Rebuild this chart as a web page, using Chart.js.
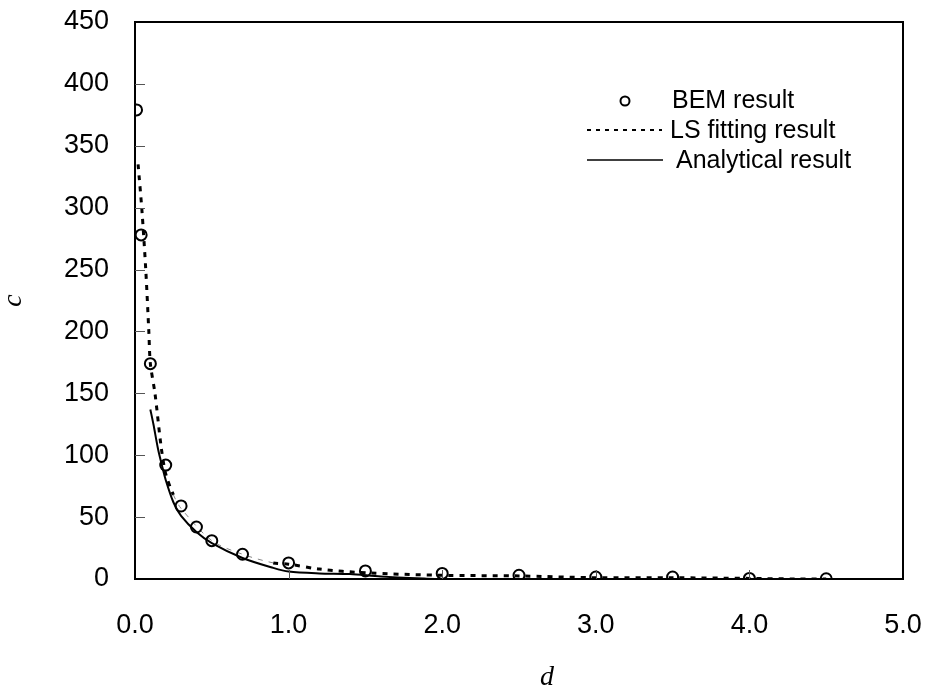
<!DOCTYPE html>
<html lang="en">
<head>
    <meta charset="UTF-8">
    <title>c versus d</title>
    <script src="https://cdn.jsdelivr.net/npm/chart.js"></script>
    <style>
        body { margin: 0; padding: 0; background: #fff; }
        #chart-container { width: 925px; height: 693px; }
    </style>
</head>
<body>
    <div id="chart-container">
        <canvas id="myChart" width="925" height="693"></canvas>
    </div>

    <script>
        // BEM result (circles)
        const bemD = [0.01, 0.04, 0.1, 0.2, 0.3, 0.4, 0.5, 0.7, 1.0, 1.5, 2.0, 2.5, 3.0, 3.5, 4.0, 4.5];
        const bemC = [379, 278, 174, 92, 59, 42, 31, 20, 13, 6.5, 4.5, 3, 1.6, 1.6, 0.5, 0.2];

        // LS fitting result (dotted)
        const lsD = [0.02, 0.045, 0.07, 0.09, 0.1, 0.13, 0.17, 0.2, 0.25, 0.3, 0.5, 0.7, 0.9, 1.0, 1.2, 1.5, 2.0, 2.5, 3.0, 3.5, 4.0, 4.3, 4.5];
        const lsC = [335, 298, 250, 200, 174, 150, 107, 85, 68, 57, 31, 20, 13, 12, 8, 5, 3, 2.5, 1, 1, 0.5, 0, 0];

        // Analytical result (solid)
        const anD = [0.1, 0.12, 0.15, 0.175, 0.2, 0.25, 0.3, 0.4, 0.5, 0.7, 0.9, 1.0, 1.2, 1.4, 1.6, 1.9, 2.0, 5.0];
        const anC = [137, 125, 105, 92, 80, 62, 51, 38, 29, 17, 9, 6, 4.5, 4, 2, 0.3, 0, 0];

        const xTicks = [0, 1, 2, 3, 4, 5];
        const yTicks = [0, 50, 100, 150, 200, 250, 300, 350, 400, 450];
        const xTitle = 'd';
        const yTitle = 'c';

        const toXY = (xs, ys) => xs.map((x, i) => ({ x: x, y: ys[i] }));
        const FONT = 'Liberation Sans, Arial, sans-serif';
        const SERIF = 'Liberation Serif, Times New Roman, serif';

        // box round the plot, inward ticks, axis titles and the legend
        const framePlugin = {
            id: 'frame',
            afterDraw(chart) {
                const ctx = chart.ctx;
                const a = chart.chartArea;
                const xs = chart.scales.x, ys = chart.scales.y;
                ctx.save();
                ctx.strokeStyle = '#000';
                ctx.lineWidth = 2;
                ctx.strokeRect(a.left, a.top, a.right - a.left, a.bottom - a.top);

                ctx.lineWidth = 1;
                ctx.strokeStyle = '#555';
                yTicks.slice(1, -1).forEach(v => {
                    const py = Math.round(ys.getPixelForValue(v)) + 0.5;
                    ctx.beginPath();
                    ctx.moveTo(a.left, py);
                    ctx.lineTo(a.left + 10, py);
                    ctx.stroke();
                });
                xTicks.slice(1, -1).forEach(v => {
                    const px = Math.round(xs.getPixelForValue(v)) + 0.5;
                    ctx.beginPath();
                    ctx.moveTo(px, a.bottom);
                    ctx.lineTo(px, a.bottom - 9);
                    ctx.stroke();
                });

                // axis titles
                ctx.fillStyle = '#000';
                ctx.font = 'italic 28px ' + SERIF;
                ctx.textAlign = 'center';
                ctx.textBaseline = 'middle';
                ctx.fillText(xTitle, 547, 678);
                ctx.save();
                ctx.translate(14, (a.top + a.bottom) / 2);
                ctx.rotate(-Math.PI / 2);
                ctx.fillText(yTitle, 0, 0);
                ctx.restore();

                // legend
                ctx.strokeStyle = '#000';
                ctx.font = '25px ' + FONT;
                ctx.textAlign = 'left';
                const ds = chart.data.datasets;

                ctx.lineWidth = 2;
                ctx.beginPath();
                ctx.arc(625, 101, 4.5, 0, Math.PI * 2);
                ctx.stroke();
                ctx.fillText(ds[0].label, 672, 101);

                ctx.setLineDash([4, 5]);
                ctx.lineWidth = 2;
                ctx.beginPath();
                ctx.moveTo(587, 130);
                ctx.lineTo(662, 130);
                ctx.stroke();
                ctx.setLineDash([]);
                ctx.fillText(ds[1].label, 670, 131);

                ctx.lineWidth = 1.5;
                ctx.beginPath();
                ctx.moveTo(587, 160);
                ctx.lineTo(663, 160);
                ctx.stroke();
                ctx.fillText(ds[2].label, 676, 161);
                ctx.restore();
            }
        };

        const ctx = document.getElementById('myChart').getContext('2d');
        const myChart = new Chart(ctx, {
            type: 'scatter',
            data: {
                datasets: [
                    {
                        label: 'BEM result',
                        data: toXY(bemD, bemC),
                        showLine: false,
                        pointStyle: 'circle',
                        pointRadius: 5.5,
                        pointBorderWidth: 2,
                        pointBorderColor: '#000',
                        pointBackgroundColor: 'rgba(0,0,0,0)',
                        order: 0,
                    },
                    {
                        label: 'LS fitting result',
                        data: toXY(lsD, lsC),
                        showLine: true,
                        pointRadius: 0,
                        borderColor: '#000',
                        borderWidth: 3,
                        borderDash: [5, 6],
                        tension: 0.3,
                        segment: {
                            borderColor: c => (c.p0.parsed.x >= 0.25 && c.p0.parsed.x < 0.9) ? '#888' : '#000',
                            borderWidth: c => (c.p0.parsed.x >= 0.25 && c.p0.parsed.x < 0.9) ? 1 : 3,
                        },
                        order: 1,
                    },
                    {
                        label: 'Analytical result',
                        data: toXY(anD, anC),
                        showLine: true,
                        pointRadius: 0,
                        borderColor: '#000',
                        borderWidth: 2,
                        tension: 0.3,
                        order: 2,
                    },
                ],
            },
            options: {
                responsive: false,
                animation: false,
                layout: { padding: { left: 0, right: 22, top: 22, bottom: 0 } },
                plugins: {
                    legend: { display: false },
                    tooltip: { enabled: false },
                },
                scales: {
                    x: {
                        type: 'linear',
                        min: 0,
                        max: 5,
                        afterFit: s => { s.height = 114; s.paddingLeft = 0; s.paddingRight = 0; },
                        afterBuildTicks: s => { s.ticks = xTicks.map(v => ({ value: v })); },
                        ticks: {
                            color: '#000',
                            padding: 30,
                            font: { family: FONT, size: 27 },
                            callback: v => v.toFixed(1),
                        },
                        grid: { display: false, drawTicks: false },
                        border: { display: true, color: '#000', width: 2 },
                    },
                    y: {
                        min: 0,
                        max: 450,
                        afterFit: s => { s.width = 135; s.paddingTop = 0; s.paddingBottom = 0; },
                        afterBuildTicks: s => { s.ticks = yTicks.map(v => ({ value: v })); },
                        ticks: {
                            color: '#000',
                            padding: 26,
                            font: { family: FONT, size: 27 },
                        },
                        grid: { display: false, drawTicks: false },
                        border: { display: true, color: '#000', width: 2 },
                    },
                },
            },
            plugins: [framePlugin],
        });
    </script>
</body>
</html>
